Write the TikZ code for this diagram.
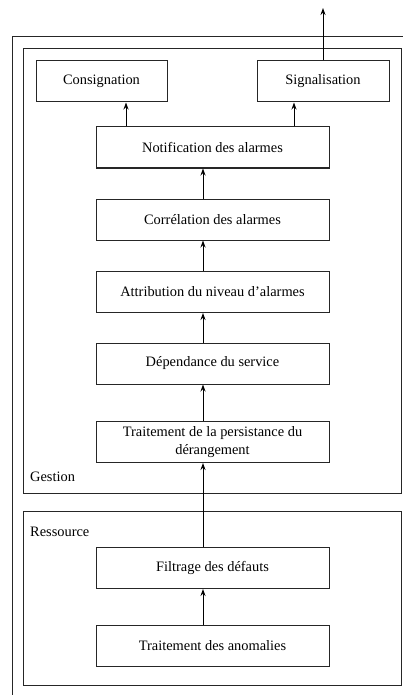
\documentclass[tikz,border=0pt]{standalone}
\usepackage{fontspec}
\setmainfont{Liberation Serif}
\usetikzlibrary{positioning, arrows.meta}
\tikzstyle{diagram} = [x = 1pt, y = -1pt]
\tikzstyle{frameLine} = [color=black!85, line width=1pt]
\tikzstyle{stepBox} = [draw, color=black!85, text=black, line width=1pt, minimum width=233pt, minimum height=41pt, inner sep=0pt, align=center, font=\fontsize{14.4}{17.5}\selectfont]
\tikzstyle{endBox} = [stepBox, minimum width=131pt]
\tikzstyle{frameText} = [anchor=west, inner sep=0pt, font=\fontsize{14.4}{17.5}\selectfont]
\tikzstyle{flowArrow} = [-{Stealth[length=7pt, width=5pt]}, line width=1pt]
\newcommand{\colShift}{-9.5pt}

\begin{document}
\begin{tikzpicture}[diagram]
      \useasboundingbox (0, 0) rectangle (403, 695);

      % frames
      \draw[frameLine] (403, 37) -| (12, 695);
      \draw[frameLine] (23, 49) rectangle (401, 493);
      \draw[frameLine] (23, 511) rectangle (401, 685);
      \node[frameText] (gestionText) at (30, 477) {Gestion};
      \node[frameText] (ressourceText) at (30, 532) {Ressource};

      % boxes
      \node[endBox] (cons) at (101.5, 81.5) {Consignation};
      \node[endBox, minimum width=132pt] (sig) at (323, 81.5) {Signalisation};
      \node[stepBox] (notif) at (212.5, 147.5) {Notification des alarmes};
      \node[stepBox] (corr) at (212.5, 219.5) {Corrélation des alarmes};
      \node[stepBox] (attr) at (212.5, 292) {Attribution du niveau d'alarmes};
      \node[stepBox] (dep) at (212.5, 363.5) {Dépendance du service};
      \node[stepBox] (pers) at (212.5, 442) {Traitement de la persistance du\\dérangement};
      \node[stepBox] (filt) at (212.5, 568) {Filtrage des défauts};
      \node[stepBox] (anom) at (212.5, 646) {Traitement des anomalies};
      \coordinate (out) at (323, 8);

      % arrows
      \draw[flowArrow] ([xshift=\colShift]anom.north) -- ([xshift=\colShift]filt.south);
      \draw[flowArrow] ([xshift=\colShift]filt.north) -- ([xshift=\colShift]pers.south);
      \draw[flowArrow] ([xshift=\colShift]pers.north) -- ([xshift=\colShift]dep.south);
      \draw[flowArrow] ([xshift=\colShift]dep.north) -- ([xshift=\colShift]attr.south);
      \draw[flowArrow] ([xshift=\colShift]attr.north) -- ([xshift=\colShift]corr.south);
      \draw[flowArrow] ([xshift=\colShift]corr.north) -- ([xshift=\colShift]notif.south);
      \draw[flowArrow] ([xshift=24.5pt]cons.south |- notif.north) -- ([xshift=24.5pt]cons.south);
      \draw[flowArrow] ([xshift=-29pt]sig.south |- notif.north) -- ([xshift=-29pt]sig.south);
      \draw[flowArrow] (sig.north) -- (out);
\end{tikzpicture}
\end{document}
